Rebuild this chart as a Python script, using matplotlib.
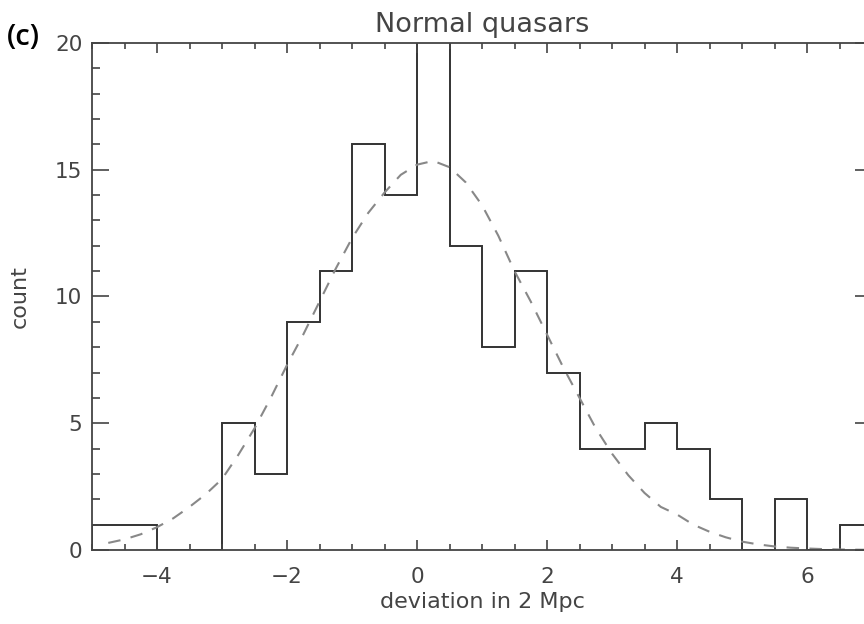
import numpy as np
import matplotlib
matplotlib.use("Agg")
import matplotlib.pyplot as plt
from matplotlib.ticker import MultipleLocator

# histogram of deviations, bins of 0.5 from -5 to 7
bin_edges = np.arange(-5.0, 7.01, 0.5)
counts = [1, 1, 0, 0, 5, 3, 9, 11, 16, 14, 21, 12,
          8, 11, 7, 4, 4, 5, 4, 2, 0, 2, 0, 1]

# dashed fit curve
fit_x = [-4.75, -4.5, -4.25, -4.0, -3.75, -3.5, -3.25, -3.0, -2.75, -2.5,
         -2.25, -2.0, -1.75, -1.5, -1.25, -1.0, -0.75, -0.5, -0.25, 0.0,
         0.25, 0.5, 0.75, 1.0, 1.25, 1.5, 1.75, 2.0, 2.25, 2.5,
         2.75, 3.0, 3.25, 3.5, 3.75, 4.0, 4.25, 4.5, 4.75, 5.0,
         5.25, 5.5, 5.75, 6.0, 6.25, 6.5, 6.75, 7.0]
fit_y = [0.28, 0.42, 0.62, 0.9, 1.25, 1.7, 2.2, 2.8, 3.75, 4.8,
         6.0, 7.3, 8.5, 9.8, 11.1, 12.3, 13.3, 14.1, 14.8, 15.2,
         15.35, 15.1, 14.5, 13.6, 12.4, 11.0, 9.8, 8.5, 7.2, 6.0,
         4.8, 3.8, 2.95, 2.25, 1.7, 1.4, 1.0, 0.72, 0.5, 0.33,
         0.22, 0.14, 0.09, 0.06, 0.035, 0.02, 0.012, 0.007]

x_ticks = [-4, -2, 0, 2, 4, 6]
y_ticks = [0, 5, 10, 15, 20]

txt = "#444444"
fig = plt.figure(figsize=(8.64, 6.24), dpi=100)
# axes run a little past the right edge, as in the cropped original
ax = fig.add_axes([0.1065, 0.1186, 0.9028, 0.8125])

ax.stairs(counts, bin_edges, color="#333333", lw=1.4)
ax.plot(fit_x, fit_y, color="#888888", lw=1.5, dashes=(6, 5))

ax.set_xlim(-5, 7)
ax.set_ylim(0, 20)
ax.set_xticks(x_ticks)
ax.set_yticks(y_ticks)
ax.set_xticklabels([str(v).replace("-", "\u2212") for v in x_ticks])
ax.xaxis.set_minor_locator(MultipleLocator(0.5))
ax.yaxis.set_minor_locator(MultipleLocator(1))

ax.tick_params(axis="both", which="both", direction="in", top=True, right=True,
               color="#444444", width=1.2, labelcolor=txt, labelsize=15.5)
ax.tick_params(axis="x", which="major", length=7.5, pad=12)
ax.tick_params(axis="x", which="minor", length=4)
ax.tick_params(axis="y", which="major", length=12, pad=7)
ax.tick_params(axis="y", which="minor", length=6)
for s in ax.spines.values():
    s.set_color("#444444")
    s.set_linewidth(1.3)
ax.spines["right"].set_visible(False)

ax.set_title("Normal quasars", fontsize=19.5, color=txt, pad=8)
ax.set_xlabel("deviation in 2 Mpc", fontsize=16, color=txt, labelpad=4)
ax.set_ylabel("count", fontsize=16, color=txt, labelpad=18)

fig.text(0.008, 0.94, "(c)", fontsize=21, family=["Open Sans", "DejaVu Sans"],
         weight="semibold", color="black", va="center", ha="left")

fig.savefig("out.png", dpi=100)
